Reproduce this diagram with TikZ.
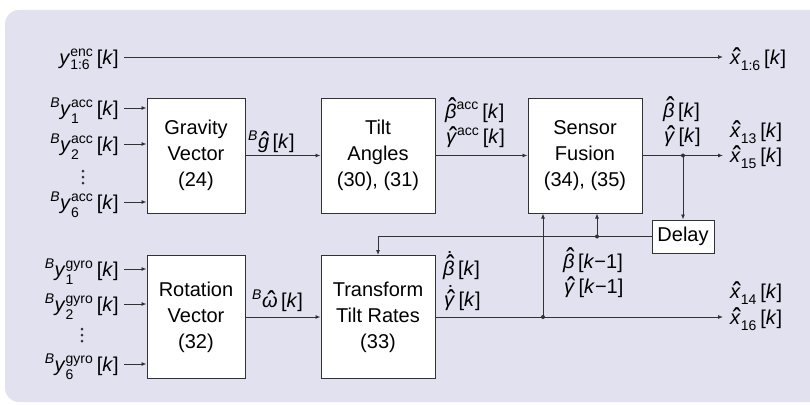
\documentclass[tikz,border=0pt]{standalone}
\usepackage{fontspec}
\usepackage{amsmath}
\usepackage{graphicx}
\setmainfont{Liberation Sans}
\usetikzlibrary{arrows.meta}

\definecolor{panel}{RGB}{225,225,239}
\definecolor{ink}{RGB}{50,50,50}

% italic variable, upright text, the sample index in brackets
\newcommand\mv[1]{\text{\textit{#1}}}
\newcommand\tx[1]{\text{#1}}
\newcommand\at[1]{\,\text{[\textit{#1}]}}
% lowered sensor index under a superscript
\newcommand\sub[1]{\text{\raisebox{-3.5pt}{#1}}}
% estimate: italic letter with a caret set just above it
\newcommand\est[1]{\text{\sbox0{\textit{#1}}\sbox2{\scalebox{1.25}[1.5]{ˆ}}%
  \ooalign{\usebox0\cr
    \hidewidth\kern0.16em\raisebox{\dimexpr\ht0+0.29em-\ht2\relax}{\usebox2}\hidewidth\cr}}}
% rate of an estimate: caret with a dot above it
\newcommand\estrate[1]{\text{\sbox0{\textit{#1}}\sbox2{\scalebox{1.25}[1.5]{ˆ}}%
  \sbox4{\scalebox{1.1}{˙}}%
  \ooalign{\usebox0\cr
    \hidewidth\kern0.16em\raisebox{\dimexpr\ht0+0.29em-\ht2\relax}{\usebox2}\hidewidth\cr
    \hidewidth\kern0.18em\raisebox{\dimexpr\ht0+0.47em-\ht4\relax}{\usebox4}\hidewidth\cr}}}
\newcommand\bigtext{\fontsize{20}{26}\selectfont}

\begin{document}
\begin{tikzpicture}[x=1pt,y=-1pt,
  block/.style={draw=ink, fill=white, line width=1pt, align=center,
                inner sep=0pt, font=\bigtext},
  lbl/.style={inner sep=0pt, font=\bigtext},
  conn/.style={draw=ink, line width=0.9pt},
  arr/.style={conn, -{Latex[length=5pt,width=4pt]}},
  jdot/.style={fill=ink}]

\useasboundingbox (0,0) rectangle (810,404);
\fill[panel, rounded corners=14pt] (5,10) rectangle (840,402);

% ---------- blocks ----------
\node[block, minimum width=98,  minimum height=115] (grav)  at (196,155.5) {Gravity\\Vector\\(24)};
\node[block, minimum width=114, minimum height=115] (tilt)  at (378,155.5) {Tilt\\Angles\\(30), (31)};
\node[block, minimum width=114, minimum height=115] (fus)   at (585,155.5) {Sensor\\Fusion\\(34), (35)};
\node[block, minimum width=62,  minimum height=33]  (delay) at (683,236.5) {Delay};
\node[block, minimum width=98,  minimum height=123] (rot)   at (196,317)   {Rotation\\Vector\\(32)};
\node[block, minimum width=114, minimum height=123] (trans) at (378,317)   {Transform\\Tilt Rates\\(33)};

% ---------- encoder pass-through ----------
\coordinate (encS) at (124,57);
\coordinate (encE) at (723,57);
\node[lbl, anchor=base east] (enc)  at (119,64) {$\mv{y}^{\tx{enc}}_{\tx{1:6}}\at{k}$};
\node[lbl, anchor=base west] (xenc) at (730,64) {$\est{x}_{\tx{1:6}}\at{k}$};
\draw[arr] (encS) -- (encE);

% ---------- accelerometer inputs ----------
\coordinate (a1) at (124,108);
\coordinate (a2) at (124,144);
\coordinate (a6) at (124,202);
\node[lbl, anchor=base east] (la1) at (119,115) {${}^{\mv{B}}\mv{y}^{\tx{acc}}_{\sub{1}}\at{k}$};
\node[lbl, anchor=base east] (la2) at (119,151) {${}^{\mv{B}}\mv{y}^{\tx{acc}}_{\sub{2}}\at{k}$};
\node[lbl, anchor=base east] (la6) at (119,209) {${}^{\mv{B}}\mv{y}^{\tx{acc}}_{\sub{6}}\at{k}$};
\foreach \p in {a1,a2,a6} \draw[arr] (\p) -- (\p -| grav.west);
\foreach \yy in {171,177,183} \fill[jdot] (83,\yy) circle (1.5);

% ---------- gyroscope inputs ----------
\coordinate (g1) at (124,269);
\coordinate (g2) at (124,304);
\coordinate (g6) at (124,364);
\node[lbl, anchor=base east] (lg1) at (119,276) {${}^{\mv{B}}\mv{y}^{\tx{gyro}}_{\sub{1}}\at{k}$};
\node[lbl, anchor=base east] (lg2) at (119,311) {${}^{\mv{B}}\mv{y}^{\tx{gyro}}_{\sub{2}}\at{k}$};
\node[lbl, anchor=base east] (lg6) at (119,371) {${}^{\mv{B}}\mv{y}^{\tx{gyro}}_{\sub{6}}\at{k}$};
\foreach \p in {g1,g2,g6} \draw[arr] (\p) -- (\p -| rot.west);
\foreach \yy in {329,335,341} \fill[jdot] (82,\yy) circle (1.5);

% ---------- upper chain ----------
\draw[arr] (grav.east) -- (tilt.west);
\node[lbl, anchor=base west] (lg) at (248,148) {${}^{\mv{B}}\est{g}\at{k}$};
\draw[arr] (tilt.east) -- (fus.west);
\node[lbl, anchor=base west] (lbacc) at (445,118) {$\est{β}^{\tx{acc}}\at{k}$};
\node[lbl, anchor=base west] (lgacc) at (446,143) {$\est{γ}^{\tx{acc}}\at{k}$};

\coordinate (tap1) at (683,155.5);
\coordinate (out1) at (723,155.5);
\draw[conn] (fus.east) -- (tap1);
\draw[arr] (tap1) -- (out1);
\draw[arr] (tap1) -- (delay.north);
\fill[jdot] (tap1) circle (2);
\node[lbl, anchor=base west] (lb) at (663,117) {$\est{β}\at{k}$};
\node[lbl, anchor=base west] (lgm) at (664,142) {$\est{γ}\at{k}$};
\node[lbl, anchor=base west] (x13) at (730,137) {$\est{x}_{\tx{13}}\at{k}$};
\node[lbl, anchor=base west] (x15) at (730,162) {$\est{x}_{\tx{15}}\at{k}$};

% ---------- delayed feedback ----------
\coordinate (tap2) at (597,236.5);
\draw[arr] (delay.west) -| (trans.north);
\draw[arr] (tap2) -- (tap2 |- fus.south);
\fill[jdot] (tap2) circle (2);
\node[lbl, anchor=base west] (lbd) at (563,268) {$\est{β}\,\text{[\textit{k}−1]}$};
\node[lbl, anchor=base west] (lgd) at (564,293) {$\est{γ}\,\text{[\textit{k}−1]}$};

% ---------- lower chain ----------
\draw[arr] (rot.east) -- (trans.west);
\node[lbl, anchor=base west] (lw) at (252,307) {${}^{\mv{B}}\est{ω}\at{k}$};
\coordinate (tap3) at (543,317);
\coordinate (out2) at (723,317);
\draw[conn] (trans.east) -- (tap3);
\draw[arr] (tap3) -- (out2);
\draw[arr] (tap3) -- (tap3 |- fus.south);
\fill[jdot] (tap3) circle (2);
\node[lbl, anchor=base west] (lbr) at (443,275) {$\estrate{β}\at{k}$};
\node[lbl, anchor=base west] (lgr) at (444,306) {$\estrate{γ}\at{k}$};
\node[lbl, anchor=base west] (x14) at (730,298) {$\est{x}_{\tx{14}}\at{k}$};
\node[lbl, anchor=base west] (x16) at (730,324) {$\est{x}_{\tx{16}}\at{k}$};

\end{tikzpicture}
\end{document}
